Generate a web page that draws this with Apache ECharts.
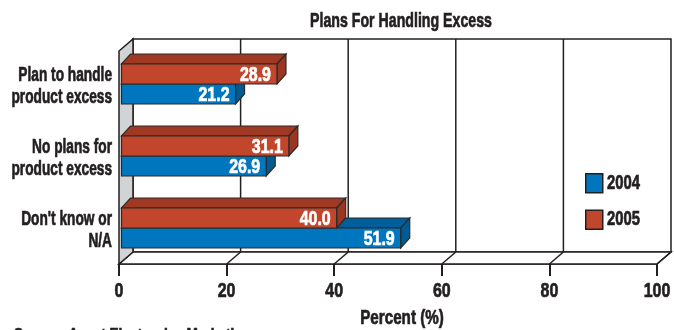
<!DOCTYPE html>
<html>
<head>
<meta charset="utf-8">
<script src="https://cdn.jsdelivr.net/npm/echarts@6/dist/echarts.min.js"></script>
<style>
  html, body { margin: 0; padding: 0; background: #fff; }
  #chart { width: 674px; height: 330px; }
</style>
</head>
<body>
<div id="chart"></div>
<script>
const categories = ['Plan to handle\nproduct excess', 'No plans for\nproduct excess', "Don't know or\nN/A"];
const seriesNames = ['2004', '2005'];
const values2004 = [21.2, 26.9, 51.9];
const values2005 = [28.9, 31.1, 40.0];
const xTicks = [0, 20, 40, 60, 80, 100];

const FONT = "'Liberation Sans', Arial, sans-serif";
const INK = '#231f20';
// depth of the box and of the bars
const DX = 14, DY = 12;
const BX = 9, BY = 10;

// condensed heavy text (the original uses a narrow black face)
function ctext(text, x, y, size, scale, align, vAlign, extra) {
  const style = Object.assign({
    text: text, fill: INK, font: 'bold ' + size + 'px ' + FONT,
    align: align, verticalAlign: vAlign
  }, extra || {});
  style.stroke = style.fill;
  style.lineWidth = 0.7;
  return { type: 'text', x: x, y: y, scaleX: scale, z: 10, style: style };
}

function renderFrame(params, api) {
  const cs = params.coordSys;
  const v = api.value(0);
  const x = api.coord([v, 0])[0];
  const floorY = cs.y + cs.height;
  const backTop = cs.y - 9;
  const backFloor = floorY - DY;
  const xr = cs.x + cs.width;
  const line = { stroke: INK, lineWidth: 1.5 };
  const children = [];
  if (params.dataIndex === 0) {
    children.push({ type: 'rect', shape: { x: cs.x + DX, y: backTop, width: cs.width, height: backFloor - backTop },
      style: { fill: '#fff', stroke: INK, lineWidth: 1.5 } });
    children.push({ type: 'polygon', shape: { points: [[cs.x, floorY], [xr, floorY], [xr + DX, backFloor], [cs.x + DX, backFloor]] },
      style: { fill: '#fff', stroke: INK, lineWidth: 1.5 } });
    children.push({ type: 'polygon', shape: { points: [[cs.x, floorY], [cs.x, backTop + DY], [cs.x + DX, backTop], [cs.x + DX, backFloor]] },
      style: { fill: '#d1d3d4', stroke: INK, lineWidth: 1.5 } });
  }
  if (v > 0 && v < 100) {
    children.push({ type: 'line', shape: { x1: x + DX, y1: backTop, x2: x + DX, y2: backFloor }, style: line });
  }
  if (v > 0) {
    children.push({ type: 'line', shape: { x1: x, y1: floorY, x2: x + DX, y2: backFloor }, style: line });
  }
  // tick label under the front edge
  children.push(ctext(String(v), x, floorY + 27, 21, 0.76, 'center', 'middle'));
  return { type: 'group', children };
}

function renderCategoryLabel(params, api) {
  const i = api.value(1);
  const p = api.coord([0, i]);
  return ctext(categories[i], p[0] - 7, p[1] + 2, 20, 0.685, 'right', 'middle', { lineHeight: 22 });
}

function barRenderer(above, front, top, side) {
  return function (params, api) {
    const i = api.value(1);
    const v = api.value(0);
    const c0 = api.coord([0, i]);
    const c1 = api.coord([v, i]);
    const x0 = c0[0] + 2.5;
    const x1 = c1[0] + 2.5;
    const cy = c0[1];
    const yt = above ? cy - 20 : cy;
    const yb = yt + 20;
    const stroke = { stroke: '#2b2b2b', lineWidth: 1.2 };
    return {
      type: 'group',
      children: [
        { type: 'polygon', shape: { points: [[x0, yt], [x1, yt], [x1 + BX, yt - BY], [x0 + BX, yt - BY]] },
          style: Object.assign({ fill: top }, stroke) },
        { type: 'polygon', shape: { points: [[x1, yt], [x1 + BX, yt - BY], [x1 + BX, yb - BY], [x1, yb]] },
          style: Object.assign({ fill: side }, stroke) },
        { type: 'rect', shape: { x: x0, y: yt, width: x1 - x0, height: yb - yt },
          style: Object.assign({ fill: front }, stroke) },
        ctext(v.toFixed(1), x1 - 6, (yt + yb) / 2 + 1, 21, 0.76, 'right', 'middle', { fill: '#fff' })
      ]
    };
  };
}

const chart = echarts.init(document.getElementById('chart'));
chart.setOption({
  animation: false,
  backgroundColor: '#fff',
  legend: {
    data: seriesNames,
    orient: 'vertical',
    left: 580,
    top: 168,
    icon: 'rect',
    itemWidth: 17,
    itemHeight: 19,
    itemGap: 16,
    formatter: () => '',
    itemStyle: { borderColor: INK, borderWidth: 1.5 }
  },
  grid: { left: 119, right: 17, top: 48, bottom: 66, containLabel: false, outerBoundsMode: 'none' },
  xAxis: {
    type: 'value',
    min: 0,
    max: 100,
    interval: 20,
    axisLine: { show: true, lineStyle: { color: INK, width: 1.5 } },
    axisTick: { show: true, length: 12, lineStyle: { color: INK, width: 2 } },
    axisLabel: { show: false },
    splitLine: { show: false }
  },
  yAxis: {
    type: 'category',
    data: categories,
    inverse: true,
    axisLine: { show: false },
    axisTick: { show: false },
    axisLabel: { show: false }
  },
  graphic: [
    ctext('Plans For Handling Excess', 401, 21, 21, 0.675, 'center', 'middle'),
    ctext('Percent (%)', 402, 318, 20, 0.76, 'center', 'middle'),
    ctext(seriesNames[0], 607, 183.5, 20, 0.74, 'left', 'middle'),
    ctext(seriesNames[1], 607, 219, 20, 0.74, 'left', 'middle'),
    ctext('Source: Avnet Electronics Marketing', 14, 328, 16, 0.85, 'left', 'top')
  ],
  series: [
    {
      type: 'custom',
      name: 'frame',
      z: 1,
      silent: true,
      renderItem: renderFrame,
      data: xTicks.map(v => [v, 0]),
      encode: { x: 0, y: 1 }
    },
    {
      type: 'custom',
      name: 'labels',
      z: 1,
      silent: true,
      renderItem: renderCategoryLabel,
      data: categories.map((c, i) => [0, i]),
      encode: { x: 0, y: 1 }
    },
    {
      type: 'custom',
      name: seriesNames[0],
      z: 2,
      itemStyle: { color: '#0076be' },
      renderItem: barRenderer(false, '#0076be', '#005f9b', '#005a94'),
      data: values2004.map((v, i) => [v, i]),
      encode: { x: 0, y: 1 }
    },
    {
      type: 'custom',
      name: seriesNames[1],
      z: 2,
      itemStyle: { color: '#c1462b' },
      renderItem: barRenderer(true, '#c1462b', '#a03924', '#9a3622'),
      data: values2005.map((v, i) => [v, i]),
      encode: { x: 0, y: 1 }
    }
  ]
});
</script>
</body>
</html>
